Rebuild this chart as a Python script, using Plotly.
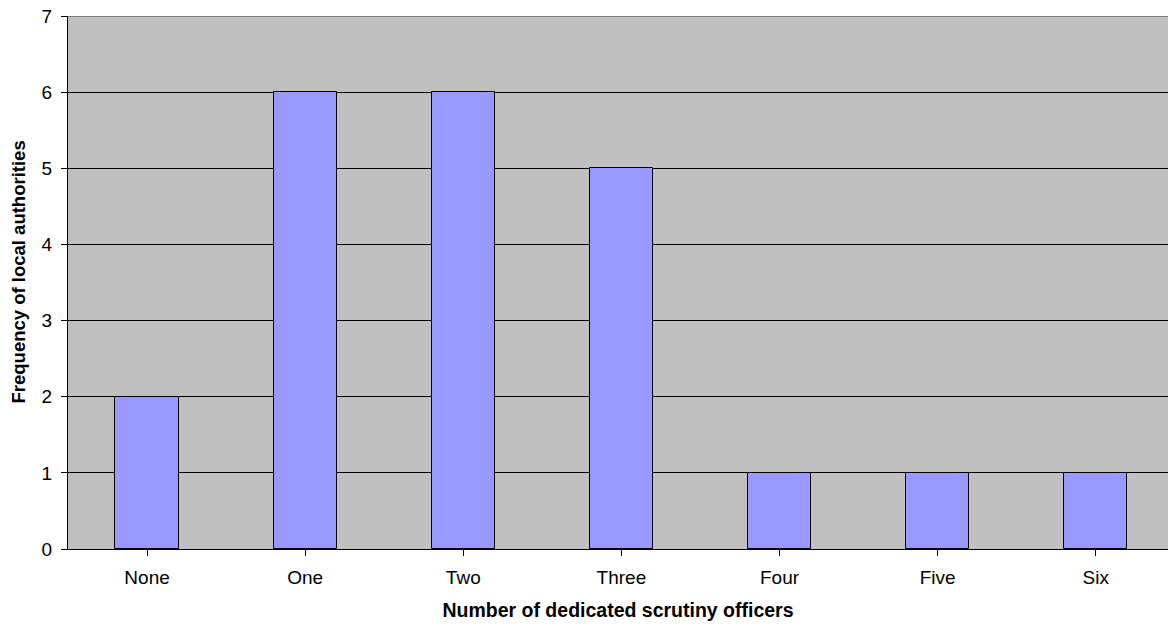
import plotly.graph_objects as go

categories = ["None", "One", "Two", "Three", "Four", "Five", "Six"]
frequencies = [2, 6, 6, 5, 1, 1, 1]
y_ticks = [0, 1, 2, 3, 4, 5, 6, 7]

font_family = "Liberation Sans, Arial, sans-serif"

fig = go.Figure(
    go.Bar(
        x=list(range(len(categories))),
        y=frequencies,
        width=0.4,
        marker=dict(color="#9999FF", line=dict(color="#000000", width=1)),
        hoverinfo="skip",
    )
)

fig.update_layout(
    width=1168,
    height=624,
    margin=dict(l=68, r=0, t=16, b=75),
    paper_bgcolor="white",
    plot_bgcolor="#C0C0C0",
    font=dict(family=font_family, size=19, color="#000000"),
    showlegend=False,
    bargap=0,
)

fig.update_xaxes(
    range=[-0.5, 6.457],
    tickmode="array",
    tickvals=list(range(len(categories))),
    ticktext=categories,
    tickson="boundaries",
    ticks="outside",
    ticklen=6,
    tickcolor="#000000",
    ticklabelstandoff=5,
    showgrid=False,
    showline=True,
    linecolor="#000000",
    linewidth=1,
    zeroline=False,
    tickfont=dict(size=19),
    title=dict(text="<b>Number of dedicated scrutiny officers</b>", font=dict(size=19.5), standoff=16),
)

fig.update_yaxes(
    range=[0, 7],
    tickmode="array",
    tickvals=y_ticks,
    ticks="outside",
    ticklen=6,
    tickcolor="#000000",
    ticklabelstandoff=5,
    showgrid=True,
    gridcolor="#000000",
    gridwidth=1,
    showline=True,
    linecolor="#000000",
    linewidth=1,
    zeroline=False,
    tickfont=dict(size=19),
)

# vertical axis title, placed slightly above the middle of the plot area
fig.add_annotation(
    text="<b>Frequency of local authorities</b>",
    xref="paper", yref="paper",
    x=0, y=0.5,
    xshift=-50, yshift=10,
    xanchor="center", yanchor="middle",
    textangle=-90,
    showarrow=False,
    font=dict(size=18.5),
)

# grey top edge of the plotting area
fig.add_shape(
    type="line", xref="paper", yref="y",
    x0=0, x1=1, y0=7, y1=7,
    line=dict(color="#808080", width=2),
    layer="above",
)

fig.write_html("out.html")
